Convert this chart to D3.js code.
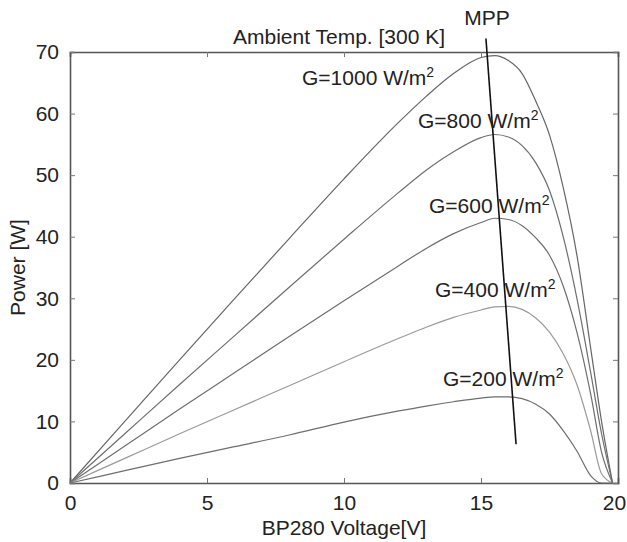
<!DOCTYPE html>
<html>
<head>
<meta charset="utf-8">
<script src="https://cdn.jsdelivr.net/npm/d3@7"></script>
<style>
  body { margin: 0; background: #fff; }
  text { font-family: "Liberation Sans", Arial, sans-serif; fill: #222; }
</style>
</head>
<body>
<div id="chart"></div>
<script>
// voltage samples (V) shared by all curves
const volts = [0, 2, 4, 6, 8, 10, 12, 13, 14, 15, 15.5, 16, 16.5, 17, 17.5, 18, 18.5, 19, 19.4, 19.8];

// power (W) for each irradiance
const p1000 = [0, 10, 20, 29.9, 39.7, 49.4, 58.6, 62.8, 66.5, 69.1, 69.4, 68.6, 66.5, 62, 56.5, 48, 37, 22, 10, 0];
const p800  = [0, 8, 16, 23.9, 31.8, 39.6, 47.2, 50.8, 53.8, 56.1, 56.6, 56.2, 54.8, 52, 47.5, 40, 30, 18, 8, 0];
const p600  = [0, 6, 12, 17.9, 23.8, 29.6, 35.3, 38.1, 40.5, 42.3, 43, 42.8, 41.8, 39.8, 37, 32, 24.5, 14.5, 5, 0];
const p400  = [0, 4, 8, 11.9, 15.8, 19.7, 23.5, 25.3, 26.9, 28.1, 28.6, 28.7, 28.2, 26.8, 24.5, 21, 16, 8.5, 1.5, 0];
const p200  = [0, 2, 4, 5.9, 7.8, 9.9, 11.7, 12.5, 13.2, 13.8, 14, 14, 13.7, 12.8, 11.2, 8.5, 5.2, 1.2, 0, 0];

const labels = ["G=1000 W/m", "G=800 W/m", "G=600 W/m", "G=400 W/m", "G=200 W/m"];
const curveColors = ['#666', '#6e6e6e', '#6e6e6e', '#9a9a9a', '#6e6e6e'];

// MPP line end points (V, W)
const mppV = [15.18, 16.28];
const mppP = [72.2, 6.3];

const xTicks = [0, 5, 10, 15, 20];
const yTicks = [0, 10, 20, 30, 40, 50, 60, 70];

let svgWidth = 627, svgHeight = 542;
let margin = {top: 52, right: 9, bottom: 59, left: 70};
let width = svgWidth - margin.left - margin.right,
    height = svgHeight - margin.top - margin.bottom;

let x = d3.scaleLinear().domain([0, 20]).range([0, width]);
let y = d3.scaleLinear().domain([0, 70]).range([height, 0]);

let svg = d3.select("#chart").append("svg")
    .attr("width", svgWidth)
    .attr("height", svgHeight);

let g = svg.append("g")
    .attr("transform", "translate(" + margin.left + "," + margin.top + ")");

// axes (ticks pointing inward, mirrored on top/right)
g.append("g")
    .attr("transform", "translate(0," + height + ")")
    .call(d3.axisBottom(x).tickValues(xTicks).tickSize(-5).tickPadding(12).tickFormat(d3.format("d")))
    .call(a => a.selectAll("text").attr("font-size", 21))
    .call(a => a.selectAll(".tick").filter(d => d === 20).select("text").attr("dx", -4));
g.append("g")
    .call(d3.axisTop(x).tickValues(xTicks).tickSize(-5).tickFormat(""));
g.append("g")
    .call(d3.axisLeft(y).tickValues(yTicks).tickSize(-5).tickPadding(11).tickFormat(d3.format("d")))
    .call(a => a.selectAll("text").attr("font-size", 21));
g.append("g")
    .attr("transform", "translate(" + width + ",0)")
    .call(d3.axisRight(y).tickValues(yTicks).tickSize(-5).tickFormat(""));

g.selectAll(".domain").attr("stroke", "#555").attr("stroke-width", 1.6);
g.selectAll(".tick line").attr("stroke", "#777");
g.selectAll(".tick text").attr("fill", "#222").attr("font-family", "Liberation Sans, Arial, sans-serif");

// curves
let series = [p1000, p800, p600, p400, p200];
let line = d3.line()
    .x(d => x(d[0]))
    .y(d => y(d[1]))
    .curve(d3.curveMonotoneX);

g.selectAll(".curve")
    .data(series)
    .enter()
    .append("path")
    .attr("class", "curve")
    .attr("fill", "none")
    .attr("stroke", (d, i) => curveColors[i])
    .attr("stroke-width", 1.2)
    .attr("d", d => line(d.map((p, j) => [volts[j], p])));

// MPP line
g.append("path")
    .attr("fill", "none")
    .attr("stroke", "#111")
    .attr("stroke-width", 1.6)
    .attr("d", d3.line()(mppV.map((v, i) => [x(v), y(mppP[i])])));

// curve labels with superscript
let labelPos = [[302, 85], [418, 128], [429, 213], [435, 297], [443, 386]];
labels.forEach((t, i) => {
    let txt = svg.append("text")
        .attr("x", labelPos[i][0])
        .attr("y", labelPos[i][1])
        .attr("font-size", 21)
        .text(t);
    txt.append("tspan")
        .attr("dy", -8)
        .attr("font-size", 14)
        .text("2");
});

svg.append("text")
    .attr("x", 233).attr("y", 44)
    .attr("font-size", 21)
    .text("Ambient Temp. [300 K]");

svg.append("text")
    .attr("x", 487).attr("y", 25)
    .attr("text-anchor", "middle")
    .attr("font-size", 21)
    .text("MPP");

svg.append("text")
    .attr("x", margin.left + width / 2).attr("y", 535)
    .attr("text-anchor", "middle")
    .attr("font-size", 21)
    .text("BP280 Voltage[V]");

svg.append("text")
    .attr("transform", "translate(25," + (margin.top + height / 2) + ") rotate(-90)")
    .attr("text-anchor", "middle")
    .attr("font-size", 21)
    .text("Power [W]");
</script>
</body>
</html>
